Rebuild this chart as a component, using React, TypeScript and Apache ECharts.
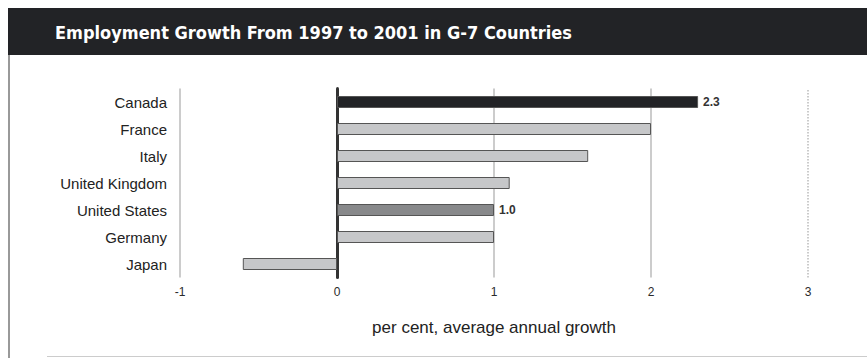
import React, { useEffect, useRef } from "react";
import * as echarts from "echarts";

const countries = ["Canada", "France", "Italy", "United Kingdom", "United States", "Germany", "Japan"];
const growth = [2.3, 2.0, 1.6, 1.1, 1.0, 1.0, -0.6];
const barColors = ["#222326", "#c6c7c9", "#c6c7c9", "#c6c7c9", "#88898b", "#c6c7c9", "#c6c7c9"];
const shownLabels = [true, false, false, false, true, false, false];
const gridValues = [-1, 1, 2, 3];
const titleText = "Employment Growth From 1997 to 2001 in G-7 Countries";
const axisTitle = "per cent, average annual growth";

export default function App() {
  const ref = useRef<HTMLDivElement>(null);
  useEffect(() => {
    document.body.style.margin = "0";
    const chart = echarts.init(ref.current!, undefined, { renderer: "svg" });
    const cats = [...countries].reverse();
    const data = growth
      .map((v, i) => ({
        value: v,
        itemStyle: { color: barColors[i] },
        label: { show: shownLabels[i] },
      }))
      .reverse();
    chart.setOption({
      animation: false,
      backgroundColor: "#ffffff",
      textStyle: { fontFamily: "'Liberation Sans', Arial, sans-serif" },
      grid: { left: 180, right: 59, top: 88.5, height: 189 },
      xAxis: {
        type: "value",
        min: -1,
        max: 3,
        interval: 1,
        splitLine: { show: false },
        axisLine: { show: false },
        axisTick: { show: false },
        axisLabel: { color: "#2a2a2a", fontSize: 12, margin: 8 },
        name: axisTitle,
        nameLocation: "middle",
        nameGap: 41,
        nameTextStyle: { color: "#222", fontSize: 17 },
      },
      yAxis: {
        type: "category",
        data: cats,
        axisLine: { show: true, onZero: true, lineStyle: { color: "#333", width: 3 } },
        axisTick: { show: false },
        axisLabel: { color: "#222", fontSize: 15, margin: 13 },
        splitLine: { show: false },
      },
      series: [
        {
          type: "bar",
          data,
          barWidth: 12,
          itemStyle: { borderColor: "#555", borderWidth: 1 },
          label: {
            position: "right",
            distance: 5,
            color: "#333",
            fontSize: 12,
            fontWeight: "bold",
            formatter: (p: any) => p.value.toFixed(1),
          },
          z: 3,
          markLine: {
            silent: true,
            symbol: "none",
            label: { show: false },
            lineStyle: { color: "#bbbbbb", width: 1.5, type: "solid" },
            data: gridValues.map((v) => ({
              xAxis: v,
              lineStyle: v === 3 ? { type: "dotted", color: "#bbbbbb", width: 1.5 } : undefined,
            })),
            z: 1,
          },
        },
      ],
      graphic: [
        { type: "rect", shape: { x: 8, y: 8, width: 859, height: 47 }, style: { fill: "#222326" } },
        {
          type: "text",
          x: 55,
          y: 32,
          style: {
            text: titleText,
            fill: "#ffffff",
            font: "bold 18px 'DejaVu Sans Condensed', sans-serif",
            verticalAlign: "middle",
          },
        },
        { type: "line", shape: { x1: 9, y1: 55, x2: 9, y2: 358 }, style: { stroke: "#999", lineWidth: 2 } },
        { type: "line", shape: { x1: 47, y1: 356.5, x2: 867, y2: 356.5 }, style: { stroke: "#ccc", lineWidth: 1 } },
      ],
    });
    return () => chart.dispose();
  }, []);
  return <div ref={ref} style={{ width: 867, height: 358 }} />;
}
